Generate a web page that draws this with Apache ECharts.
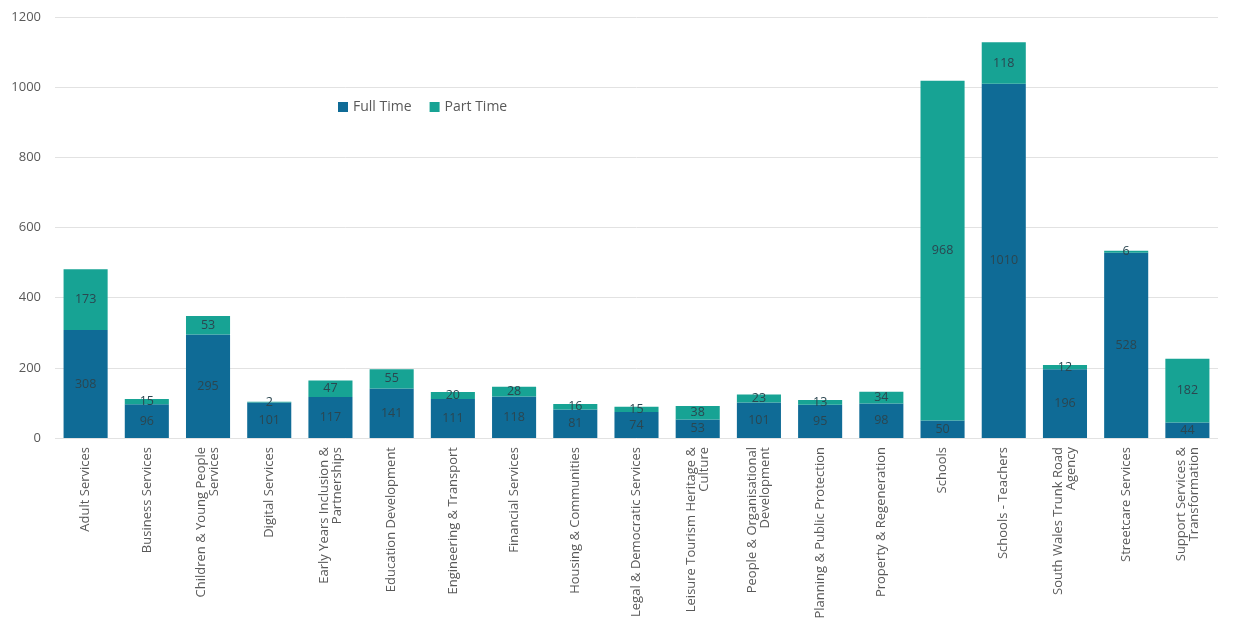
<!DOCTYPE html>
<html>
<head>
<meta charset="utf-8">
<script src="https://cdn.jsdelivr.net/npm/echarts@6/dist/echarts.min.js"></script>
<style>html,body{margin:0;padding:0;background:#fff}#c{width:1242px;height:635px}</style>
</head>
<body>
<div id="c"></div>
<script>
const categories = [
  "Adult Services",
  "Business Services",
  "Children & Young People\nServices",
  "Digital Services",
  "Early Years Inclusion &\nPartnerships",
  "Education Development",
  "Engineering & Transport",
  "Financial Services",
  "Housing & Communities",
  "Legal & Democratic Services",
  "Leisure Tourism Heritage &\nCulture",
  "People & Organisational\nDevelopment",
  "Planning & Public Protection",
  "Property & Regeneration",
  "Schools",
  "Schools - Teachers",
  "South Wales Trunk Road\nAgency",
  "Streetcare Services",
  "Support Services &\nTransformation"
];
const fullTime = [308, 96, 295, 101, 117, 141, 111, 118, 81, 74, 53, 101, 95, 98, 50, 1010, 196, 528, 44];
const partTime = [173, 15, 53, 2, 47, 55, 20, 28, 16, 15, 38, 23, 13, 34, 968, 118, 12, 6, 182];
const yTicks = [0, 200, 400, 600, 800, 1000, 1200];

const FONT = '"Open Sans", "Noto Sans", sans-serif';
const chart = echarts.init(document.getElementById('c'), null, {renderer: 'canvas'});
const labelStyle = {show: true, position: 'inside', color: '#2b4650', fontSize: 12.5, fontFamily: FONT};
chart.setOption({
  animation: false,
  backgroundColor: '#fff',
  textStyle: {fontFamily: FONT},
  legend: {
    left: 333, top: 95,
    itemWidth: 10, itemHeight: 10, itemGap: 18,
    icon: 'rect',
    textStyle: {color: '#595959', fontSize: 14, fontFamily: FONT},
    data: ['Full Time', 'Part Time']
  },
  grid: {left: 55, right: 24, top: 17, bottom: 197, containLabel: false},
  xAxis: {
    type: 'category',
    data: categories,
    axisLine: {show: false},
    axisTick: {show: false},
    axisLabel: {interval: 0, rotate: 90, color: '#595959', fontSize: 13, fontFamily: FONT, margin: 9, lineHeight: 13}
  },
  yAxis: {
    type: 'value',
    min: yTicks[0], max: yTicks[yTicks.length - 1], interval: 200,
    axisLine: {show: false},
    axisTick: {show: false},
    axisLabel: {color: '#595959', fontSize: 13, fontFamily: FONT, margin: 14, formatter: v => String(v)},
    splitLine: {lineStyle: {color: '#e2e2e2', width: 1}}
  },
  series: [
    {name: 'Full Time', type: 'bar', stack: 'total', data: fullTime, barCategoryGap: '28%',
     itemStyle: {color: '#0f6b96'}, label: labelStyle},
    {name: 'Part Time', type: 'bar', stack: 'total', data: partTime, barCategoryGap: '28%',
     itemStyle: {color: '#17a394'}, label: labelStyle}
  ]
});
</script>
</body>
</html>
